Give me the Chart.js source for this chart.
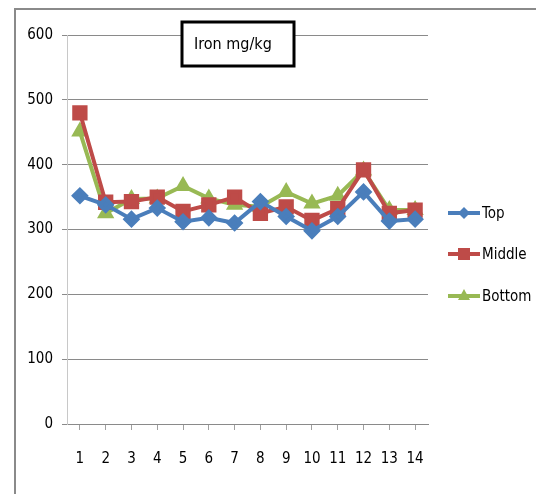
<!DOCTYPE html>
<html>
<head>
<meta charset="utf-8">
<script src="https://cdn.jsdelivr.net/npm/chart.js@4"></script>
<style>
  html, body { margin: 0; padding: 0; background: #fff; }
  #wrap { width: 536px; height: 494px; }
</style>
</head>
<body>
<div id="wrap"><canvas id="chart" width="536" height="494"></canvas></div>
<script>
// data
const samples = ["1","2","3","4","5","6","7","8","9","10","11","12","13","14"];
const topVals    = [352, 338, 316, 333, 312, 318, 310, 343, 320, 298, 320, 358, 313, 316];
const middleVals = [480, 342, 343, 350, 328, 338, 350, 325, 335, 314, 332, 392, 325, 330];
const bottomVals = [451, 325, 347, 348, 367, 348, 338, 335, 358, 340, 352, 391, 330, 330];
const yTicks = [0, 100, 200, 300, 400, 500, 600];
const chartTitle = "Iron mg/kg";

const FONT = "'Liberation Sans Narrow', 'DejaVu Sans Condensed', sans-serif";

// frame, title box and legend drawn by hand
const decorPlugin = {
  id: "decor",
  afterDraw(chart) {
    const c = chart.ctx;
    c.save();
    // outer frame (top + left only visible)
    c.strokeStyle = "#8a8a8a";
    c.lineWidth = 2;
    c.beginPath();
    c.moveTo(15, 494);
    c.lineTo(15, 9);
    c.lineTo(536, 9);
    c.stroke();

    // title box
    c.fillStyle = "#fff";
    c.fillRect(182, 22, 112, 44);
    c.strokeStyle = "#000";
    c.lineWidth = 3;
    c.strokeRect(182, 22, 112, 44);
    c.fillStyle = "#000";
    c.font = "16px " + FONT;
    c.textBaseline = "middle";
    c.textAlign = "left";
    c.fillText(chartTitle, 194, 45);

    // legend
    const ys = [213, 254, 296];
    chart.data.datasets.forEach((ds, i) => {
      const y = ys[i];
      c.strokeStyle = ds.borderColor;
      c.lineWidth = 4;
      c.beginPath();
      c.moveTo(448, y);
      c.lineTo(480, y);
      c.stroke();
      c.fillStyle = ds.backgroundColor;
      const x = 464;
      c.beginPath();
      if (ds.pointStyle === "rectRot") {
        c.moveTo(x, y - 6); c.lineTo(x + 6, y); c.lineTo(x, y + 6); c.lineTo(x - 6, y);
      } else if (ds.pointStyle === "rect") {
        c.rect(x - 6, y - 6, 12, 12);
      } else {
        c.moveTo(x, y - 7); c.lineTo(x + 6, y + 4); c.lineTo(x - 6, y + 4);
      }
      c.closePath();
      c.fill();
      c.fillStyle = "#000";
      c.font = "15px " + FONT;
      c.textAlign = "left";
      c.fillText(ds.label, 482, y + 1);
    });
    c.restore();
  }
};

new Chart(document.getElementById("chart"), {
  type: "line",
  data: {
    labels: samples,
    datasets: [
      { label: "Top", data: topVals, borderColor: "#4a7ebb", backgroundColor: "#4a7ebb",
        pointStyle: "rectRot", pointRadius: 6, borderWidth: 4, clip: false },
      { label: "Middle", data: middleVals, borderColor: "#be4b48", backgroundColor: "#be4b48",
        pointStyle: "rect", pointRadius: 8, borderWidth: 4, clip: false },
      { label: "Bottom", data: bottomVals, borderColor: "#98b954", backgroundColor: "#98b954",
        pointStyle: "triangle", pointRadius: 6, borderWidth: 4, clip: false }
    ]
  },
  options: {
    responsive: false,
    animation: false,
    layout: { padding: { top: 35, right: 108, bottom: 0, left: 0 } },
    plugins: { legend: { display: false }, title: { display: false }, tooltip: { enabled: false } },
    elements: { line: { tension: 0 }, point: { borderWidth: 0 } },
    scales: {
      x: {
        offset: true,
        grid: { drawOnChartArea: false, drawTicks: true, tickLength: 6, color: "#a0a0a0" },
        border: { color: "#8a8a8a", width: 1 },
        ticks: { color: "#000", font: { family: FONT, size: 15 }, padding: 20, maxRotation: 0 },
        afterFit(s) { s.height = 70; }
      },
      y: {
        min: 0, max: 600,
        afterBuildTicks(s) { s.ticks = yTicks.map(v => ({ value: v })); },
        grid: { color: "#8a8a8a", lineWidth: 1, tickLength: 5 },
        border: { color: "#c8c8c8", width: 1 },
        ticks: { color: "#000", font: { family: FONT, size: 15 }, padding: 9 },
        afterFit(s) { s.width = 67; }
      }
    }
  },
  plugins: [decorPlugin]
});
</script>
</body>
</html>
